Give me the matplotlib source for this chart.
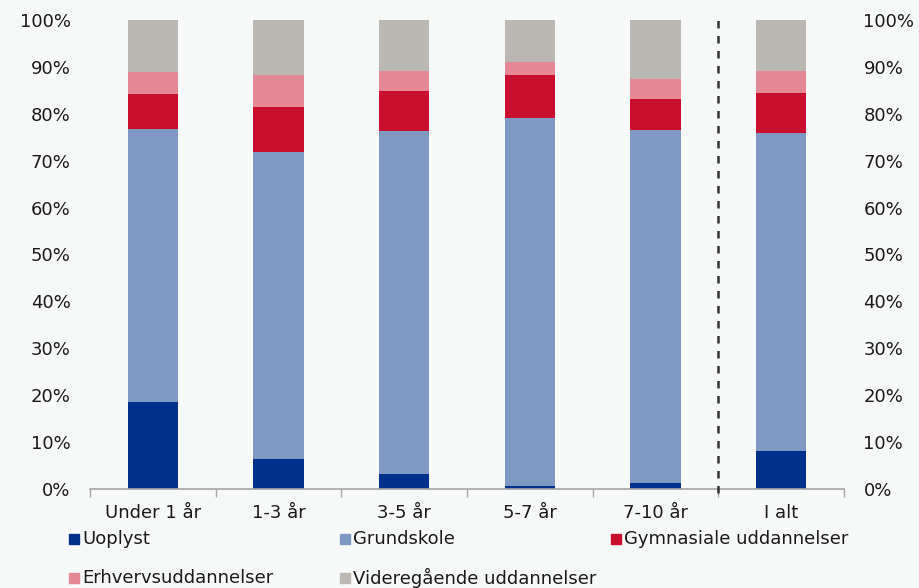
import numpy as np
import matplotlib.pyplot as plt
from matplotlib.patches import Rectangle

# Kategorier og andele (%)
kategorier = ['Under 1 år', '1-3 år', '3-5 år', '5-7 år', '7-10 år', 'I alt']
uoplyst = [18.6, 6.5, 3.1, 0.7, 1.3, 8.2]
grundskole = [58.2, 65.3, 73.2, 78.4, 75.2, 67.8]
gymnasiale = [7.4, 9.6, 8.6, 9.2, 6.7, 8.5]
erhverv = [4.7, 6.9, 4.2, 2.7, 4.3, 4.7]
videregaaende = [11.1, 11.7, 10.9, 9.0, 12.5, 10.8]

serier = ['Uoplyst', 'Grundskole', 'Gymnasiale uddannelser',
          'Erhvervsuddannelser', 'Videregående uddannelser']
farver = ['#00308a', '#8099c4', '#c8102e', '#e48896', '#bbb8b3']
y_ticks = [0, 10, 20, 30, 40, 50, 60, 70, 80, 90, 100]

bg = '#f7f9f9'
fig = plt.figure(figsize=(9.2, 5.88), dpi=100, facecolor=bg)
ax = fig.add_axes([90 / 920, 1 - 489 / 588, 754 / 920, 469 / 588], facecolor=bg)

x = np.arange(len(kategorier))
bund = np.zeros(len(kategorier))
for vals, navn, farve in zip([uoplyst, grundskole, gymnasiale, erhverv, videregaaende], serier, farver):
    ax.bar(x, vals, width=0.4, bottom=bund, color=farve, label=navn, zorder=2)
    bund += np.array(vals)

ax.set_xlim(-0.5, len(kategorier) - 0.5)
ax.set_ylim(0, 100)

# Stiplet linje mellem 7-10 år og I alt
ax.axvline(4.5, ymin=-0.008, ymax=1, color='#333333', linestyle=(0, (3, 3)), linewidth=1.8,
           clip_on=False, zorder=3)

for s in ['top', 'left', 'right']:
    ax.spines[s].set_visible(False)
ax.spines['bottom'].set_color('#a6a6a6')
ax.spines['bottom'].set_linewidth(1.2)

ax.set_xticks(x)
ax.set_xticklabels(kategorier, fontsize=13, color='#1a1a1a')
ax.tick_params(axis='x', length=0, pad=11)
ax.set_xticks(np.arange(-0.5, len(kategorier)), minor=True)
ax.tick_params(axis='x', which='minor', length=6, width=1, color='#a6a6a6', direction='out')

ax.set_yticks(y_ticks)
ax.set_yticklabels([f'{v}%' for v in y_ticks], fontsize=13, color='#1a1a1a')
ax.tick_params(axis='y', length=0, pad=14)

ax2 = ax.twinx()
ax2.set_ylim(0, 100)
ax2.set_yticks(y_ticks)
ax2.set_yticklabels([f'{v}%' for v in y_ticks], fontsize=13, color='#1a1a1a')
ax2.tick_params(axis='y', length=0, pad=14)
for s in ['top', 'left', 'right', 'bottom']:
    ax2.spines[s].set_visible(False)

# Forklaring, tre kolonner i to rækker
for i, (navn, farve) in enumerate(zip(serier, farver)):
    r, k = divmod(i, 3)
    px = 69 + k * 271
    py = 539 + r * 39
    fig.patches.append(Rectangle((px / 920, 1 - (py + 5) / 588), 10 / 920, 10 / 588,
                                 transform=fig.transFigure, color=farve))
    fig.text((px + 13) / 920, 1 - py / 588, navn, fontsize=13, color='#1a1a1a',
             va='center', ha='left')

fig.savefig('out.png', dpi=100, facecolor=bg)
